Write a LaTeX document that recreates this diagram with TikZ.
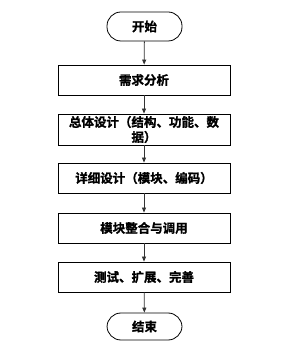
\documentclass[tikz,border=0pt]{standalone}
\usepackage{fontspec}
\setmainfont{Noto Sans CJK SC}[BoldFont={Noto Sans CJK SC Bold},BoldFeatures={FakeBold=1.2}]
\usetikzlibrary{arrows.meta}
\begin{document}
\begin{tikzpicture}[x=1pt,y=1pt,
  stepbox/.style={draw=black,line width=0.8pt,minimum width=172pt,minimum height=30pt,inner sep=0pt,align=center,font=\fontsize{12.5}{15}\selectfont\bfseries},
  termbox/.style={draw=black,line width=0.8pt,rounded corners=14pt,minimum width=75pt,minimum height=29pt,inner sep=0pt,font=\fontsize{12.5}{15}\selectfont\bfseries},
  flow/.style={draw=black!80,line width=0.8pt,-{Triangle[length=5pt,width=4pt]}}]
\useasboundingbox (0,0) rectangle (297,361);
\node[termbox] (start) at (144.5,334.5) {开始};
\node[stepbox] (s1) at (144,281) {需求分析};
\node[stepbox,minimum height=31pt] (s2) at (144,231.5) {总体设计（结构、功能、数\\据）};
\node[stepbox] (s3) at (144,183) {详细设计（模块、编码）};
\node[stepbox] (s4) at (144,133) {模块整合与调用};
\node[stepbox] (s5) at (144,84) {测试、扩展、完善};
\node[termbox,minimum height=27pt] (end) at (144.5,34.5) {结束};
\draw[flow] (start) -- (s1);
\draw[flow] (s1) -- (s2);
\draw[flow] (s2) -- (s3);
\draw[flow] (s3) -- (s4);
\draw[flow] (s4) -- (s5);
\draw[flow] (s5) -- (end);
\end{tikzpicture}
\end{document}
